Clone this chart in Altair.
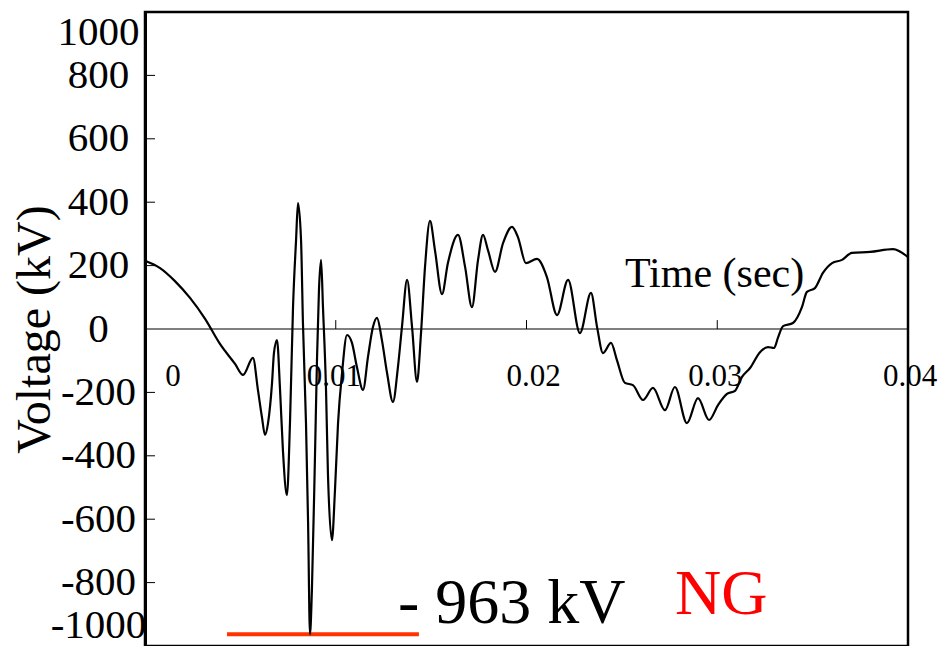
import altair as alt
import pandas as pd

# ---------------- data ----------------
time_s = [0, 0.00079, 0.00157, 0.00236, 0.00315, 0.00393, 0.00472, 0.00514,
          0.00566, 0.00592, 0.00613, 0.00629, 0.00645, 0.00666, 0.00676, 0.00692,
          0.00708, 0.00723, 0.00744, 0.00760, 0.00776, 0.00792, 0.00802, 0.00818,
          0.00828, 0.00844, 0.00855, 0.00865, 0.00875, 0.00891, 0.00902, 0.00912,
          0.00923, 0.00933, 0.00949, 0.00959, 0.00980, 0.00996, 0.01012, 0.01033,
          0.01059, 0.01085, 0.01111, 0.01143, 0.01169, 0.01195, 0.01216, 0.01242,
          0.01269, 0.01300, 0.01326, 0.01347, 0.01374, 0.01400, 0.01426, 0.01447,
          0.01468, 0.01494, 0.01520, 0.01557, 0.01588, 0.01641, 0.01678, 0.01714,
          0.01746, 0.01772, 0.01798, 0.01835, 0.01877, 0.01924, 0.01955, 0.01997,
          0.02055, 0.02107, 0.02160, 0.02218, 0.02280, 0.02338, 0.02370, 0.02401,
          0.02443, 0.02474, 0.02516, 0.02558, 0.02611, 0.02663, 0.02726, 0.02778,
          0.02841, 0.02899, 0.02957, 0.03004, 0.03051, 0.03093, 0.03130, 0.03172,
          0.03224, 0.03266, 0.03298, 0.03318, 0.03345, 0.03397, 0.03444, 0.03470,
          0.03512, 0.03554, 0.03602, 0.03654, 0.03706, 0.03801, 0.03921, 0.04]
voltage_kv = [215, 192, 151, 98, 32, -47, -110, -145,
              -91, -192, -278, -334, -297, -170, -76, -35,
              -192, -382, -524, -297, 69, 281, 397, 281,
              19, -297, -612, -963, -823, -404, -88, 123,
              218, 69, -192, -454, -666, -508, -297, -139,
              -19, -44, -120, -192, -88, 6, 35, -35,
              -139, -230, -120, 6, 155, 6, -167, -13,
              196, 341, 249, 110, 208, 297, 196, 69,
              218, 297, 249, 180, 271, 322, 290, 208,
              221, 164, 44, 155, -13, 114, 6, -76,
              -44, -98, -170, -177, -224, -186, -256, -183,
              -297, -218, -287, -240, -205, -195, -151, -123,
              -73, -57, -60, -28, 9, 19, 69, 117,
              129, 177, 208, 218, 240, 243, 252, 227]

y_tick_values = [-1000, -800, -600, -400, -200, 0, 200, 400, 600, 800, 1000]
y_inner_ticks = [-800, -600, -400, -200, 200, 400, 600, 800]
x_inner_ticks = [0.01, 0.02, 0.03]
x_label_text = ["0", "0.01", "0.02", "0.03", "0.04"]
x_label_shift = [28, -2, 7, -2, 2]   # small visual nudges seen in the reference

peak_value = [-963]
peak_bar_from = [0.0043]
peak_bar_to = [0.01436]

FONT = "Liberation Serif"
W, H = 763, 634

x_scale = alt.Scale(domain=[0, 0.04], nice=False, zero=False)
y_scale = alt.Scale(domain=[-1000, 1000], nice=False)

wave = pd.DataFrame({"t": time_s, "v": voltage_kv})

y_axis = alt.Axis(
    values=y_tick_values, labelExpr="'' + datum.value", labelFlush=True,
    labelFlushOffset=0,
    labelAlign="center", labelPadding=47, ticks=False, tickSize=0,
    domain=True, domainColor="black", domainWidth=3, grid=False,
    labelFont=FONT, labelFontSize=41, labelColor="black", labelOverlap=False,
    title="Voltage (kV)", titleFont=FONT, titleFontSize=48,
    titleFontWeight="normal", titleColor="black", titleAngle=270,
    titleX=-110, titleY=H / 2, titleAlign="center", titleBaseline="middle",
)

X = lambda f="t": alt.X(f"{f}:Q", scale=x_scale, axis=None)
Y = lambda f="v": alt.Y(f"{f}:Q", scale=y_scale, axis=y_axis)

line = alt.Chart(wave).mark_line(
    color="black", strokeWidth=2.2, interpolate="monotone"
).encode(x=X(), y=Y())

bar = alt.Chart(pd.DataFrame({"t": peak_bar_from, "t2": peak_bar_to, "v": peak_value})).mark_rule(
    color="#FF3300", strokeWidth=4
).encode(x=X(), x2="t2:Q", y=Y())

zero_line = alt.Chart(pd.DataFrame({"v": [0]})).mark_rule(
    color="black", strokeWidth=1
).encode(y=Y(), x=alt.value(0), x2=alt.value(W))

y_ticks = alt.Chart(pd.DataFrame({"v": y_inner_ticks})).mark_rule(
    color="black", strokeWidth=1
).encode(y=Y(), x=alt.value(0), x2=alt.value(10))

x_ticks = alt.Chart(pd.DataFrame({"t": x_inner_ticks, "v": [0] * 3, "v2": [28] * 3})).mark_rule(
    color="black", strokeWidth=1
).encode(x=X(), y=Y(), y2="v2:Q")

def xlabel(text, dx):
    df = pd.DataFrame({"s": [text], "t": [float(text)], "v": [-151]})
    return alt.Chart(df).mark_text(
        align="center", baseline="middle", font=FONT, fontSize=31, color="black", dx=dx
    ).encode(x=X(), y=Y(), text="s:N")

def label(text, t, v, size, color):
    return alt.Chart(pd.DataFrame({"t": [t], "v": [v], "s": [text]})).mark_text(
        align="left", baseline="alphabetic", font=FONT, fontSize=size, color=color
    ).encode(x=X(), y=Y(), text="s:N")

time_title = label("Time (sec)", 0.02516, 132, 42, "black")
peak_text = label("- 963 kV", 0.01326, -928, 64, "black")
ng_text = label("NG", 0.02779, -899, 64, "#FF0000")

x_labels = [xlabel(s, d) for s, d in zip(x_label_text, x_label_shift)]

chart = alt.layer(
    zero_line, bar, line, y_ticks, x_ticks, *x_labels,
    time_title, peak_text, ng_text,
).properties(
    width=W, height=H,
    padding={"left": 137, "top": 4, "right": 30, "bottom": 0},
    autosize=alt.AutoSizeParams(type="none"),
    background="white",
).configure_view(
    stroke="black", strokeWidth=2.5
).configure_axis(
    labelFont=FONT, titleFont=FONT
)

chart.save("out.html", embed_options={"renderer": "svg", "actions": False})
